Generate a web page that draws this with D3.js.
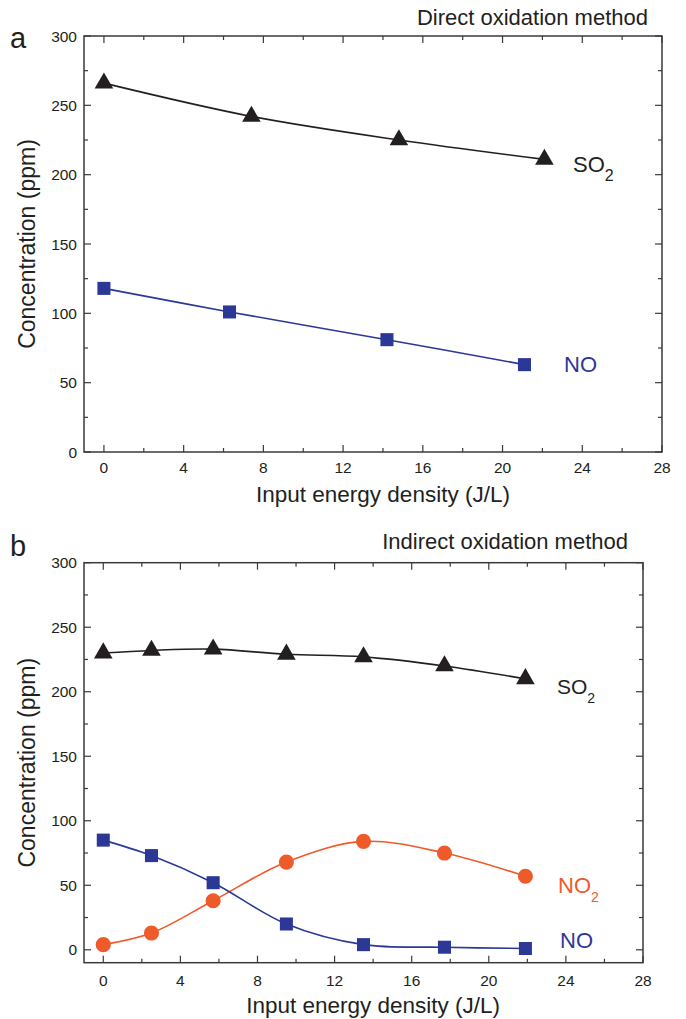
<!DOCTYPE html>
<html>
<head>
<meta charset="utf-8">
<script src="https://cdn.jsdelivr.net/npm/d3@7"></script>
<style>
  html, body { margin: 0; padding: 0; background: #fff; }
  svg text { font-family: "Liberation Sans", Arial, Helvetica, sans-serif; }
</style>
</head>
<body>
<svg id="chart" width="686" height="1019"></svg>
<script>
// ---- data ----
// Panel a: direct oxidation
const directEnergySO2 = [0, 7.4, 14.8, 22.1];
const directSO2 = [266, 242, 225, 211];
const directEnergyNO = [0, 6.3, 14.2, 21.1];
const directNO = [118, 101, 81, 63];

// Panel b: indirect oxidation
const indirectEnergy = [0, 2.5, 5.7, 9.5, 13.5, 17.7, 21.9];
const indirectSO2 = [230, 232, 233, 229, 227, 220, 210];
const indirectNO2 = [4, 13, 38, 68, 84, 75, 57];
const indirectNO = [85, 73, 52, 20, 4, 2, 1];

// ticks
const xMajorTicks = [0, 4, 8, 12, 16, 20, 24, 28];
const xMinorTicks = [2, 6, 10, 14, 18, 22, 26];
const yMajorTicks = [0, 50, 100, 150, 200, 250, 300];
const yMinorTicks = [25, 75, 125, 175, 225, 275];

const COLORS = { so2: "#231f20", no: "#2b3896", no2: "#ef5a2a", axis: "#3a3a3a" };

const svg = d3.select("#chart");

function zip(xs, ys) { return xs.map((x, i) => ({ x, y: ys[i] })); }

function drawPanel(cfg) {
  const g = svg.append("g");
  const x = d3.scaleLinear().domain(cfg.xDomain).range(cfg.xRange);
  const y = d3.scaleLinear().domain(cfg.yDomain).range(cfg.yRange);
  const [x0, x1] = cfg.xRange;
  const [y0, y1] = cfg.yRange; // y0 bottom, y1 top

  // frame
  g.append("rect")
    .attr("x", x0).attr("y", y1)
    .attr("width", x1 - x0).attr("height", y0 - y1)
    .attr("fill", "none").attr("stroke", COLORS.axis).attr("stroke-width", 1.5);

  const major = 7, minor = 4;
  const tickG = g.append("g").attr("stroke", COLORS.axis).attr("stroke-width", 1.2);
  // x ticks, bottom (inward) and top (inward)
  xMajorTicks.concat(xMinorTicks).forEach(t => {
    const len = xMajorTicks.includes(t) ? major : minor;
    const px = x(t);
    tickG.append("line").attr("x1", px).attr("x2", px).attr("y1", y0).attr("y2", y0 - len);
    tickG.append("line").attr("x1", px).attr("x2", px).attr("y1", y1).attr("y2", y1 + len);
  });
  // y ticks, left and right (inward)
  yMajorTicks.concat(yMinorTicks).forEach(t => {
    if (t < cfg.yDomain[0] || t > cfg.yDomain[1]) return;
    const len = yMajorTicks.includes(t) ? major : minor;
    const py = y(t);
    tickG.append("line").attr("x1", x0).attr("x2", x0 + len).attr("y1", py).attr("y2", py);
    tickG.append("line").attr("x1", x1).attr("x2", x1 - len).attr("y1", py).attr("y2", py);
  });

  // tick labels
  g.append("g").selectAll("text").data(xMajorTicks).join("text")
    .attr("x", d => x(d)).attr("y", y0 + cfg.xLabelOffset)
    .attr("text-anchor", "middle").attr("font-size", 15.5).attr("fill", "#231f20")
    .text(d => d);
  g.append("g").selectAll("text").data(yMajorTicks).join("text")
    .attr("x", x0 - 7).attr("y", d => y(d) + 5.5)
    .attr("text-anchor", "end").attr("font-size", 15.5).attr("fill", "#231f20")
    .text(d => d);

  // axis titles
  g.append("text")
    .attr("x", (x(0) + x(28)) / 2).attr("y", cfg.xTitleY)
    .attr("text-anchor", "middle").attr("font-size", 22.5).attr("fill", "#231f20")
    .text("Input energy density (J/L)");
  g.append("text")
    .attr("transform", `translate(35,${(y0 + y1) / 2}) rotate(-90)`)
    .attr("text-anchor", "middle").attr("font-size", 23).attr("fill", "#231f20")
    .text("Concentration (ppm)");

  // header and panel letter
  g.append("text").attr("x", cfg.titleX).attr("y", cfg.titleY)
    .attr("text-anchor", "end").attr("font-size", 22).attr("fill", "#231f20")
    .text(cfg.title);
  g.append("text").attr("x", 10).attr("y", cfg.letterY)
    .attr("font-size", 29).attr("fill", "#231f20").text(cfg.letter);

  const line = d3.line().x(d => x(d.x)).y(d => y(d.y)).curve(d3.curveCatmullRom.alpha(0.5));

  cfg.series.forEach(s => {
    const pts = zip(s.xs, s.ys);
    g.append("path").attr("d", line(pts))
      .attr("fill", "none").attr("stroke", s.color).attr("stroke-width", 1.6);
    const sym = d3.symbol().type(s.symbol).size(s.size);
    g.append("g").selectAll("path").data(pts).join("path")
      .attr("transform", d => `translate(${x(d.x)},${y(d.y)})`)
      .attr("d", sym).attr("fill", s.color);
    // series label with optional subscript
    const t = g.append("text").attr("x", s.labelX).attr("y", s.labelY)
      .attr("font-size", s.labelSize).attr("fill", s.color);
    t.append("tspan").text(s.label);
    if (s.sub) {
      t.append("tspan").attr("dy", s.subDy).attr("font-size", s.subSize).text(s.sub);
    }
  });
}

drawPanel({
  xDomain: [-1, 28], xRange: [84, 662],
  yDomain: [0, 300], yRange: [452, 36],
  xLabelOffset: 21, xTitleY: 502,
  title: "Direct oxidation method", titleX: 648, titleY: 25,
  letter: "a", letterY: 48,
  series: [
    { xs: directEnergySO2, ys: directSO2, color: COLORS.so2, symbol: d3.symbolTriangle, size: 150,
      label: "SO", sub: "2", labelX: 573, labelY: 172, labelSize: 22, subSize: 16, subDy: 9 },
    { xs: directEnergyNO, ys: directNO, color: COLORS.no, symbol: d3.symbolSquare, size: 170,
      label: "NO", labelX: 564, labelY: 372, labelSize: 22 }
  ]
});

drawPanel({
  xDomain: [-1, 28], xRange: [84, 643],
  yDomain: [-10, 300], yRange: [962.7, 562.7],
  xLabelOffset: 23, xTitleY: 1013,
  title: "Indirect oxidation method", titleX: 628, titleY: 549,
  letter: "b", letterY: 556,
  series: [
    { xs: indirectEnergy, ys: indirectSO2, color: COLORS.so2, symbol: d3.symbolTriangle, size: 150,
      label: "SO", sub: "2", labelX: 557, labelY: 694, labelSize: 21, subSize: 14, subDy: 9 },
    { xs: indirectEnergy, ys: indirectNO2, color: COLORS.no2, symbol: d3.symbolCircle, size: 180,
      label: "NO", sub: "2", labelX: 558, labelY: 893, labelSize: 22, subSize: 14, subDy: 9 },
    { xs: indirectEnergy, ys: indirectNO, color: COLORS.no, symbol: d3.symbolSquare, size: 170,
      label: "NO", labelX: 560, labelY: 948, labelSize: 22 }
  ]
});
</script>
</body>
</html>
